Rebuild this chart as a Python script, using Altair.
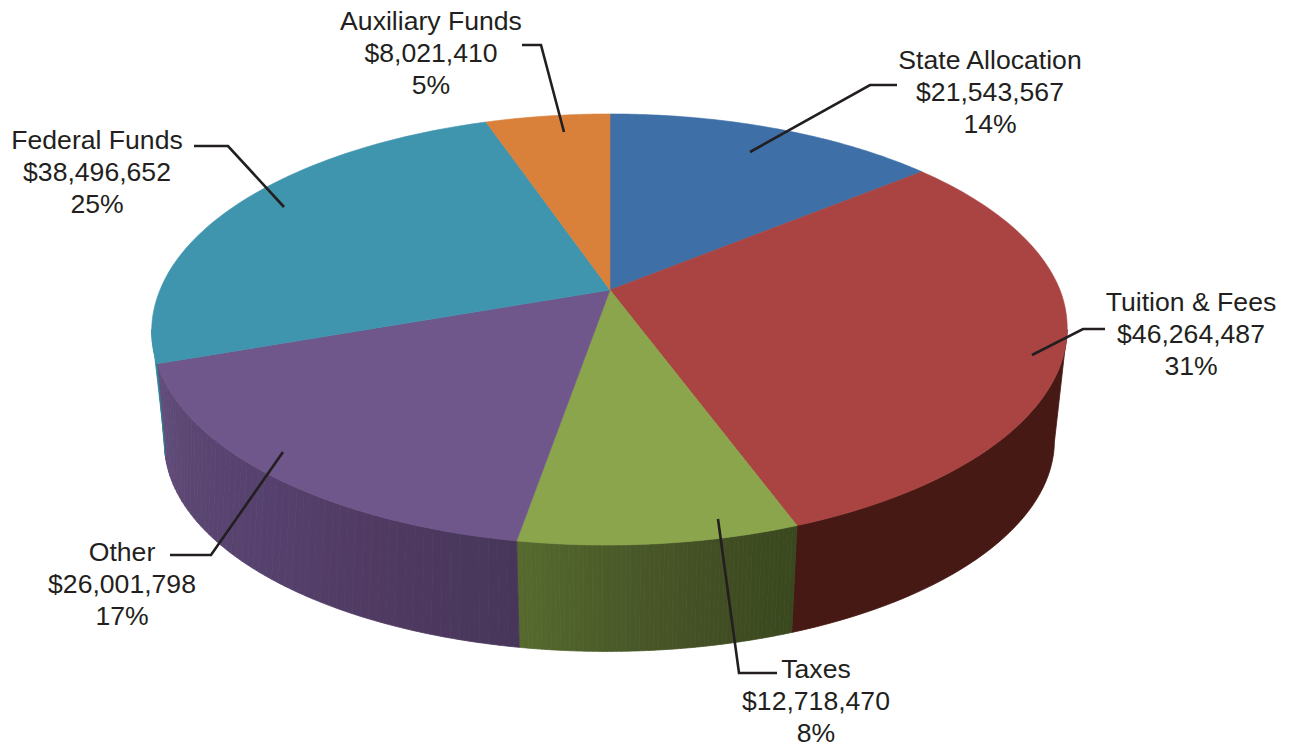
import numpy as np
import pandas as pd
import altair as alt

# Values shown on the chart, clockwise from 12 o'clock
names = ["State Allocation", "Tuition & Fees", "Taxes", "Other", "Federal Funds", "Auxiliary Funds"]
amounts = [21543567, 46264487, 12718470, 26001798, 38496652, 8021410]
amount_labels = ["$21,543,567", "$46,264,487", "$12,718,470", "$26,001,798", "$38,496,652", "$8,021,410"]
pct_labels = ["14%", "31%", "8%", "17%", "25%", "5%"]
top_colors = ["#3E6FA7", "#A94442", "#8AA54B", "#6F568B", "#3F95AE", "#D9803A"]
# Rim shading stops of each slice, from its right end to its left end
rim_stops = {
    "Tuition & Fees": ["#461914", "#461914"],
    "Taxes": ["#39481E", "#434F24", "#4B5B29", "#566A2E"],
    "Other": ["#47365A", "#503A62", "#56416E", "#5B4672", "#624D7B"],
    "Federal Funds": ["#2F8096", "#2F8096"],
}
BANDS = 60
# The Other / Federal seam leans inward on the rim: degrees it travels at the rim's lower edge
SEAM_LEAN = {"Other": (0.0, 5.2), "Federal Funds": (5.2, 0.0)}

# Label anchors and leader lines, in page pixels of the picture
label_x = [990, 1191, 816, 122, 97, 431]
label_y = [68.5, 311, 678, 561, 149, 30]
leader_x = [[750, 870, 897], [1032, 1083, 1105], [718, 739, 777], [283, 211, 170], [284, 228, 194], [564, 541, 522]]
leader_y = [[152, 85, 85], [355, 329, 329], [519, 673, 673], [452, 555, 555], [207, 146, 146], [132, 45, 45]]

# Perspective of the tilted disc
CX, CY, RX, RY, K, SKEW = 610.0, 290.0, 450.0, 208.3, 0.1833, 0.014
BOTTOM_SCALE, BOTTOM_Y = 0.972, 403.5
W, H = 1273, 736
FONT = "Liberation Sans"
INK = "#231F20"


def top(t):
    z = -np.cos(t)
    w = 1 / (1 - K * z)
    y = CY + RY * z * w
    return CX + RX * np.sin(t) * w - SKEW * np.maximum(0, y - CY), y


def bottom(t):
    x, y = top(t)
    return CX + BOTTOM_SCALE * (x - CX), BOTTOM_Y + BOTTOM_SCALE * (y - CY)


def blend(stops, n):
    rgb = np.array([[int(s[i:i + 2], 16) for i in (1, 3, 5)] for s in stops], float)
    pos = np.linspace(0, 1, len(stops))
    q = (np.arange(n) + 0.5) / n
    return ["#%02x%02x%02x" % tuple(int(round(np.interp(v, pos, rgb[:, c]))) for c in range(3)) for v in q]


edges = np.concatenate([[0], np.cumsum(amounts)]) / np.sum(amounts) * 2 * np.pi
tangent_l = 2 * np.pi - np.arccos(-K)
tangent_r = np.arccos(-K)

rim_rows, top_rows = [], []
for i, name in enumerate(names):
    a, b = edges[i], edges[i + 1]
    ts = np.linspace(a, b, 80)
    xs, ys = top(ts)
    px = [CX] + list(xs) + [CX]
    py = [CY] + list(ys) + [CY]
    for j, (x, y) in enumerate(zip(px, py)):
        top_rows.append(dict(group=name, ord=j, x=round(float(x), 2), y=round(float(y), 2), color=top_colors[i]))
    if name in rim_stops:
        lo, hi = max(a, tangent_r), min(b, tangent_l)
        lean_lo, lean_hi = SEAM_LEAN.get(name, (0.0, 0.0))
        n = BANDS if len(set(rim_stops[name])) > 1 else 1
        bands = blend(rim_stops[name], n)
        cuts_top = np.linspace(lo, hi, n + 1)
        cuts_bot = np.linspace(lo + np.radians(lean_lo), hi + np.radians(lean_hi), n + 1)
        for k, c in enumerate(bands):
            m = 40 if n == 1 else 4
            x1, y1 = top(np.linspace(cuts_top[k], cuts_top[k + 1], m))
            x2, y2 = bottom(np.linspace(cuts_bot[k + 1], cuts_bot[k], m))
            qx = list(x1) + list(x2) + [x1[0]]
            qy = list(y1) + list(y2) + [y1[0]]
            for j, (x, y) in enumerate(zip(qx, qy)):
                rim_rows.append(dict(group=f"{name}-{k}", ord=j, x=round(float(x), 2), y=round(float(y), 2), color=c))

leader_rows = []
for i, name in enumerate(names):
    for j, (x, y) in enumerate(zip(leader_x[i], leader_y[i])):
        leader_rows.append(dict(group=name, ord=j, x=x, y=y))

text_rows = []
for i, name in enumerate(names):
    for j, t in enumerate([name, amount_labels[i], pct_labels[i]]):
        text_rows.append(dict(x=label_x[i], y=label_y[i] + j * 32, t=t))

xs = alt.X("x:Q", axis=None, scale=alt.Scale(domain=[8, 8 + W], nice=False, zero=False))
ys = alt.Y("y:Q", axis=None, scale=alt.Scale(domain=[8, 8 + H], nice=False, zero=False, reverse=True))


def faces(rows, sw):
    return alt.Chart(pd.DataFrame(rows)).mark_line(strokeWidth=sw, strokeJoin="round", clip=False).encode(
        x=xs, y=ys, detail="group:N", order="ord:Q",
        fill=alt.Fill("color:N", scale=None, legend=None),
        stroke=alt.Stroke("color:N", scale=None, legend=None),
    )


leaders = alt.Chart(pd.DataFrame(leader_rows)).mark_line(
    color=INK, strokeWidth=2.6, strokeJoin="miter"
).encode(x=xs, y=ys, detail="group:N", order="ord:Q")

labels = alt.Chart(pd.DataFrame(text_rows)).mark_text(
    font=FONT, fontSize=26.6, color=INK, align="center", baseline="alphabetic"
).encode(x=xs, y=ys, text="t:N")

chart = alt.layer(faces(rim_rows, 0.8), faces(top_rows, 0.6), leaders, labels).properties(
    width=W, height=H, padding=0, autosize=alt.AutoSizeParams(type="none")
).configure_view(stroke=None)

chart.save("out.html", embed_options={"renderer": "svg", "actions": False})
